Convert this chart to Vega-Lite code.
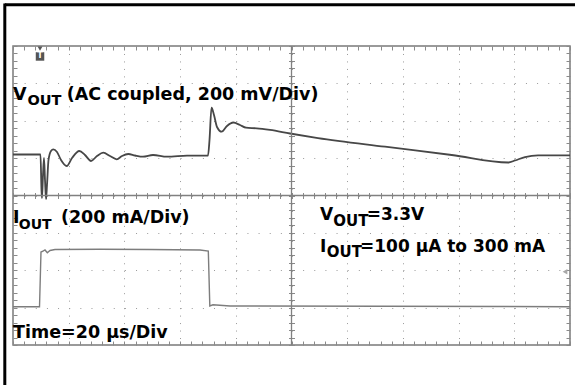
{
  "$schema": "https://vega.github.io/schema/vega-lite/v6.json",
  "width": 557,
  "height": 299,
  "autosize": {"type": "none"},
  "padding": {"left": 13, "top": 46, "right": 5, "bottom": 40},
  "background": "white",
  "config": {
    "view": {"stroke": "#7a7a7a", "strokeWidth": 1.5},
    "axis": {"labels": false, "domain": false, "title": null, "ticks": false, "grid": false, "tickColor": "#8a8a8a", "tickWidth": 1},
    "text": {"font": "DejaVu Sans", "fontWeight": "bold", "fontSize": 17.5, "align": "left", "baseline": "alphabetic", "color": "#000000"}
  },
  "datasets": {
    "one": [{}],
    "vout": [
      {"t": 0, "v": 5.097}, {"t": 9.87, "v": 5.097}, {"t": 10.23, "v": 4.147}, {"t": 10.41, "v": 3.933},
      {"t": 10.77, "v": 4.548}, {"t": 11.13, "v": 5.003}, {"t": 11.49, "v": 4.415}, {"t": 11.85, "v": 3.906},
      {"t": 12.21, "v": 4.281}, {"t": 12.75, "v": 4.95}, {"t": 13.64, "v": 5.191}, {"t": 14.47, "v": 5.236},
      {"t": 15.8, "v": 5.164}, {"t": 17.24, "v": 4.95}, {"t": 19.28, "v": 4.789}, {"t": 21.19, "v": 5.003},
      {"t": 23.81, "v": 5.191}, {"t": 25.85, "v": 5.084}, {"t": 28.01, "v": 4.923}, {"t": 30.16, "v": 5.057},
      {"t": 32.42, "v": 5.145}, {"t": 34.83, "v": 5.057}, {"t": 37.24, "v": 4.969}, {"t": 39.14, "v": 5.057},
      {"t": 41.4, "v": 5.11}, {"t": 43.81, "v": 5.07}, {"t": 46.68, "v": 5.038}, {"t": 50.27, "v": 5.084},
      {"t": 55.3, "v": 5.038}, {"t": 62.48, "v": 5.065}, {"t": 70.02, "v": 5.07}, {"t": 70.56, "v": 5.485},
      {"t": 71.28, "v": 6.349}, {"t": 72.17, "v": 6.154}, {"t": 73.25, "v": 5.833}, {"t": 74.94, "v": 5.707},
      {"t": 76.84, "v": 5.86}, {"t": 79.1, "v": 5.953}, {"t": 81.51, "v": 5.886}, {"t": 83.66, "v": 5.814},
      {"t": 87.51, "v": 5.798}, {"t": 92.28, "v": 5.753}, {"t": 99.46, "v": 5.659}, {"t": 109.52, "v": 5.538},
      {"t": 133.57, "v": 5.306}, {"t": 157.53, "v": 5.084}, {"t": 177.85, "v": 4.883}, {"t": 180.25, "v": 4.936},
      {"t": 183.85, "v": 5.03}, {"t": 188.51, "v": 5.076}, {"t": 200, "v": 5.076}
    ],
    "iout": [
      {"t": 0, "v": 1.025}, {"t": 9.52, "v": 1.025}, {"t": 10.05, "v": 2.488}, {"t": 10.77, "v": 2.515},
      {"t": 11.49, "v": 2.542}, {"t": 12.32, "v": 2.47}, {"t": 13.29, "v": 2.528}, {"t": 15.08, "v": 2.555},
      {"t": 31.24, "v": 2.561}, {"t": 49.19, "v": 2.555}, {"t": 67.15, "v": 2.542}, {"t": 70.13, "v": 2.515},
      {"t": 70.67, "v": 1.043}, {"t": 71.81, "v": 1.076}, {"t": 77.92, "v": 1.043}, {"t": 200, "v": 1.025}
    ]
  },
  "resolve": {"axis": {"x": "independent", "y": "independent"}},
  "layer": [
    {
      "data": {"name": "one"},
      "mark": {"type": "rule", "color": "#000000", "strokeWidth": 3, "clip": false},
      "encoding": {
        "x": {"datum": -2.944, "type": "quantitative", "scale": {"domain": [0, 200], "nice": false, "zero": false}, "axis": null},
        "x2": {"datum": 205},
        "y": {"datum": 9.102, "type": "quantitative", "scale": {"domain": [0, 8], "nice": false, "zero": false}, "axis": null}
      }
    },
    {
      "data": {"name": "one"},
      "mark": {"type": "rule", "color": "#000000", "strokeWidth": 3, "clip": false},
      "encoding": {
        "x": {"datum": -2.944, "type": "quantitative", "axis": null},
        "y": {"datum": 9.14, "type": "quantitative", "axis": null},
        "y2": {"datum": -2}
      }
    },
    {
      "data": {"name": "vout"},
      "mark": {"type": "line", "color": "#474747", "strokeWidth": 1.8, "interpolate": "monotone"},
      "encoding": {
        "x": {"field": "t", "type": "quantitative", "axis": {"orient": "bottom", "grid": true, "values": [20, 40, 60, 80, 100, 120, 140, 160, 180], "gridColor": "#9a9a9a", "gridWidth": 1, "gridDash": [1, 6.475]}},
        "y": {"field": "v", "type": "quantitative", "axis": {"orient": "left", "grid": true, "values": [1, 2, 3, 4, 5, 6, 7], "gridColor": "#9a9a9a", "gridWidth": 1, "gridDash": [1, 10.14]}}
      }
    },
    {
      "data": {"name": "iout"},
      "mark": {"type": "line", "color": "#7d7d7d", "strokeWidth": 1.4},
      "encoding": {
        "x": {"field": "t", "type": "quantitative", "axis": {"orient": "bottom", "offset": -4, "ticks": true, "tickSize": 4, "values": [0,4,8,12,16,20,24,28,32,36,40,44,48,52,56,60,64,68,72,76,80,84,88,92,96,100,104,108,112,116,120,124,128,132,136,140,144,148,152,156,160,164,168,172,176,180,184,188,192,196,200]}},
        "y": {"field": "v", "type": "quantitative", "axis": {"orient": "left", "offset": -4, "ticks": true, "tickSize": 4, "values": [0,0.2,0.4,0.6,0.8,1,1.2,1.4,1.6,1.8,2,2.2,2.4,2.6,2.8,3,3.2,3.4,3.6,3.8,4,4.2,4.4,4.6,4.8,5,5.2,5.4,5.6,5.8,6,6.2,6.4,6.6,6.8,7,7.2,7.4,7.6,7.8,8]}}
      }
    },
    {
      "data": {"name": "one"},
      "mark": {"type": "rule", "color": "#808080", "strokeWidth": 1.3},
      "encoding": {
        "x": {"datum": 100, "type": "quantitative", "axis": {"orient": "top", "offset": -4, "ticks": true, "tickSize": 4, "values": [0,4,8,12,16,20,24,28,32,36,40,44,48,52,56,60,64,68,72,76,80,84,88,92,96,100,104,108,112,116,120,124,128,132,136,140,144,148,152,156,160,164,168,172,176,180,184,188,192,196,200]}}
      }
    },
    {
      "data": {"name": "one"},
      "mark": {"type": "rule", "color": "#808080", "strokeWidth": 1.3},
      "encoding": {
        "y": {"datum": 4, "type": "quantitative", "axis": {"orient": "right", "offset": -4, "ticks": true, "tickSize": 4, "values": [0,0.2,0.4,0.6,0.8,1,1.2,1.4,1.6,1.8,2,2.2,2.4,2.6,2.8,3,3.2,3.4,3.6,3.8,4,4.2,4.4,4.6,4.8,5,5.2,5.4,5.6,5.8,6,6.2,6.4,6.6,6.8,7,7.2,7.4,7.6,7.8,8]}}
      }
    },
    {
      "data": {"name": "one"},
      "mark": {"type": "point", "shape": "square", "filled": true, "size": 72, "color": "#555555", "opacity": 1},
      "encoding": {
        "x": {"datum": 9.7, "type": "quantitative", "axis": {"orient": "bottom", "offset": -152.5, "ticks": true, "tickSize": 6, "values": [0,4,8,12,16,20,24,28,32,36,40,44,48,52,56,60,64,68,72,76,80,84,88,92,96,100,104,108,112,116,120,124,128,132,136,140,144,148,152,156,160,164,168,172,176,180,184,188,192,196,200]}},
        "y": {"datum": 7.72, "type": "quantitative", "axis": null}
      }
    },
    {
      "data": {"name": "one"},
      "mark": {"type": "point", "shape": "triangle-left", "filled": true, "size": 30, "color": "#a8a8a8", "opacity": 1},
      "encoding": {
        "x": {"datum": 198.2, "type": "quantitative", "axis": null},
        "y": {"datum": 1.96, "type": "quantitative", "axis": {"orient": "left", "offset": -281.5, "ticks": true, "tickSize": 6, "values": [0,0.2,0.4,0.6,0.8,1,1.2,1.4,1.6,1.8,2,2.2,2.4,2.6,2.8,3,3.2,3.4,3.6,3.8,4,4.2,4.4,4.6,4.8,5,5.2,5.4,5.6,5.8,6,6.2,6.4,6.6,6.8,7,7.2,7.4,7.6,7.8,8]}}
      }
    },
    {
      "data": {"name": "one"},
      "mark": {"type": "point", "shape": "triangle-down", "filled": true, "size": 24, "color": "#555555", "opacity": 1},
      "encoding": {
        "x": {"datum": 9.7, "type": "quantitative", "axis": null},
        "y": {"datum": 7.93, "type": "quantitative", "axis": null}
      }
    },
    {
      "data": {"name": "one"},
      "mark": {"type": "text", "text": "T", "fontSize": 8, "color": "#ffffff", "align": "center", "baseline": "middle", "font": "DejaVu Sans"},
      "encoding": {
        "x": {"datum": 9.7, "type": "quantitative", "axis": null},
        "y": {"datum": 7.72, "type": "quantitative", "axis": null}
      }
    },
    {
      "data": {"name": "one"},
      "mark": {"type": "text", "text": "V"},
      "encoding": {"x": {"datum": 0, "type": "quantitative", "axis": null}, "y": {"datum": 6.555, "type": "quantitative", "axis": null}}
    },
    {
      "data": {"name": "one"},
      "mark": {"type": "text", "text": "OUT", "fontSize": 14.5},
      "encoding": {"x": {"datum": 5.2, "type": "quantitative", "axis": null}, "y": {"datum": 6.421, "type": "quantitative", "axis": null}}
    },
    {
      "data": {"name": "one"},
      "mark": {"type": "text", "text": "(AC coupled, 200 mV/Div)"},
      "encoding": {"x": {"datum": 19.3, "type": "quantitative", "axis": null}, "y": {"datum": 6.555, "type": "quantitative", "axis": null}}
    },
    {
      "data": {"name": "one"},
      "mark": {"type": "text", "text": "I"},
      "encoding": {"x": {"datum": 0, "type": "quantitative", "axis": null}, "y": {"datum": 3.256, "type": "quantitative", "axis": null}}
    },
    {
      "data": {"name": "one"},
      "mark": {"type": "text", "text": "OUT", "fontSize": 14},
      "encoding": {"x": {"datum": 2.1, "type": "quantitative", "axis": null}, "y": {"datum": 3.096, "type": "quantitative", "axis": null}}
    },
    {
      "data": {"name": "one"},
      "mark": {"type": "text", "text": "(200 mA/Div)"},
      "encoding": {"x": {"datum": 17.2, "type": "quantitative", "axis": null}, "y": {"datum": 3.256, "type": "quantitative", "axis": null}}
    },
    {
      "data": {"name": "one"},
      "mark": {"type": "text", "text": "Time=20 µs/Div"},
      "encoding": {"x": {"datum": 0, "type": "quantitative", "axis": null}, "y": {"datum": 0.195, "type": "quantitative", "axis": null}}
    },
    {
      "data": {"name": "one"},
      "mark": {"type": "text", "text": "V", "fontSize": 17},
      "encoding": {"x": {"datum": 110.23, "type": "quantitative", "axis": null}, "y": {"datum": 3.344, "type": "quantitative", "axis": null}}
    },
    {
      "data": {"name": "one"},
      "mark": {"type": "text", "text": "OUT", "fontSize": 15},
      "encoding": {"x": {"datum": 115.0, "type": "quantitative", "axis": null}, "y": {"datum": 3.184, "type": "quantitative", "axis": null}}
    },
    {
      "data": {"name": "one"},
      "mark": {"type": "text", "text": "=3.3V", "fontSize": 17},
      "encoding": {"x": {"datum": 127.0, "type": "quantitative", "axis": null}, "y": {"datum": 3.344, "type": "quantitative", "axis": null}}
    },
    {
      "data": {"name": "one"},
      "mark": {"type": "text", "text": "I", "fontSize": 17},
      "encoding": {"x": {"datum": 110.23, "type": "quantitative", "axis": null}, "y": {"datum": 2.496, "type": "quantitative", "axis": null}}
    },
    {
      "data": {"name": "one"},
      "mark": {"type": "text", "text": "OUT", "fontSize": 15},
      "encoding": {"x": {"datum": 112.64, "type": "quantitative", "axis": null}, "y": {"datum": 2.363, "type": "quantitative", "axis": null}}
    },
    {
      "data": {"name": "one"},
      "mark": {"type": "text", "text": "=100 µA to 300 mA", "fontSize": 17},
      "encoding": {"x": {"datum": 124.6, "type": "quantitative", "axis": null}, "y": {"datum": 2.496, "type": "quantitative", "axis": null}}
    }
  ]
}
